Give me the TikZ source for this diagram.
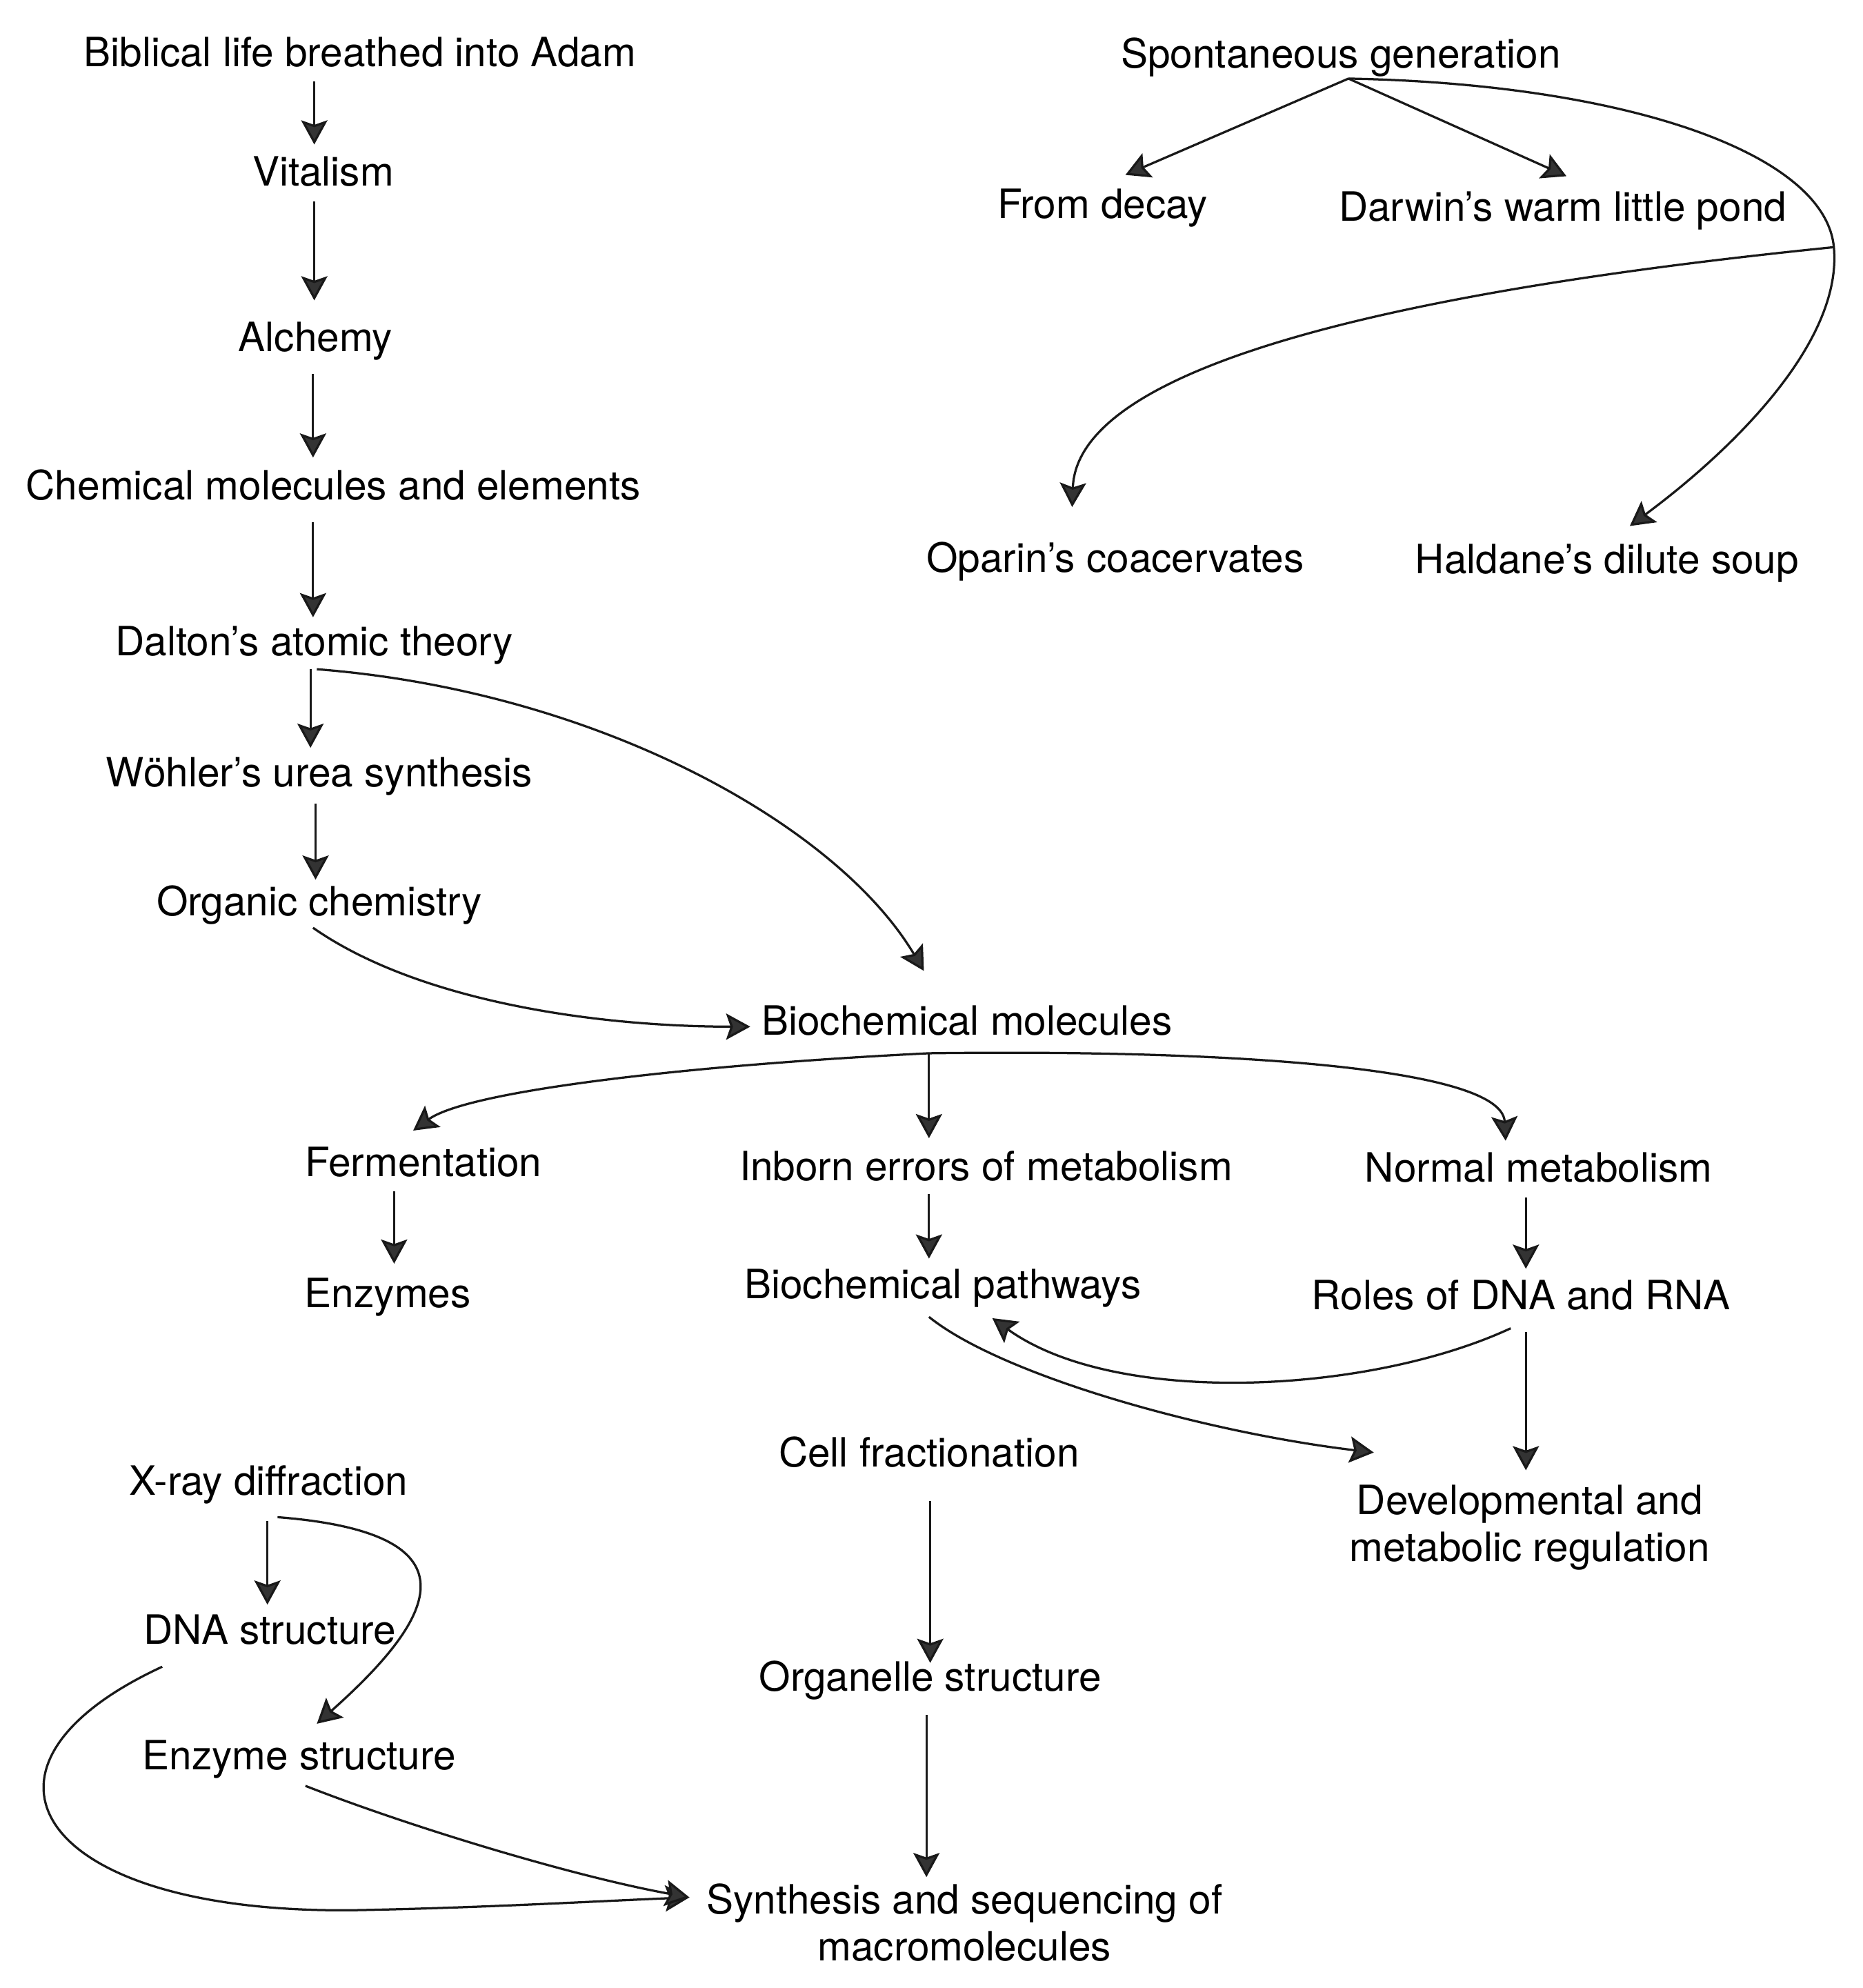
\documentclass[tikz,border=0pt]{standalone}
\usepackage{fontspec}
\setmainfont{TeX Gyre Heros}
\usetikzlibrary{arrows.meta,calc}
\begin{document}
\begin{tikzpicture}[x=0.3674pt,y=-0.3674pt,
  txt/.style={inner sep=0pt, font=\fontsize{11.7pt}{13.6pt}\selectfont, text height=8.4pt, text depth=0pt},
  txttwo/.style={inner sep=0pt, font=\fontsize{11.7pt}{13.6pt}\selectfont, align=center},
  arr/.style={line width=0.65pt, draw=black!90, -{Stealth[length=7pt,width=7.6pt,inset=1.3pt,fill=black!80]}}]
\useasboundingbox (0,0) rectangle (1470,1568.5);
% left column
\node[txt] (bib) at (284,41) {Biblical life breathed into Adam};
\node[txt] (vit) at (255,135) {Vitalism};
\node[txt] (alc) at (249,266) {Alchemy};
\node[txt] (chem) at (263,383) {Chemical molecules and elements};
\node[txt] (dal) at (248,506) {Dalton’s atomic theory};
\node[txt] (woh) at (252,609) {Wöhler’s urea synthesis};
\node[txt] (org) at (252,711) {Organic chemistry};
\node[txt] (bio) at (763,805) {Biochemical molecules};
\node[txt] (ferm) at (334,917) {Fermentation};
\node[txt] (inb) at (778,920) {Inborn errors of metabolism};
\node[txt] (norm) at (1214,921) {Normal metabolism};
\node[txt] (enz) at (306,1020) {Enzymes};
\node[txt] (path) at (744,1013) {Biochemical pathways};
\node[txt] (roles) at (1200,1022) {Roles of DNA and RNA};
\node[txttwo] (dev) at (1207,1205) {Developmental and\\metabolic regulation};
\node[txt] (cell) at (733,1146) {Cell fractionation};
\node[txt] (orgs) at (734,1323) {Organelle structure};
\node[txttwo] (syn) at (761,1517) {Synthesis and sequencing of\\macromolecules};
\node[txt] (xray) at (212,1168) {X-ray diffraction};
\node[txt] (dna) at (213,1286) {DNA structure};
\node[txt] (enzs) at (236,1385) {Enzyme structure};
% top right
\node[txt] (spont) at (1058,42) {Spontaneous generation};
\node[txt] (decay) at (870,161) {From decay};
\node[txt] (darwin) at (1233,163) {Darwin’s warm little pond};
\node[txt] (oparin) at (880,440) {Oparin’s coacervates};
\node[txt] (haldane) at (1268,441) {Haldane’s dilute soup};
\coordinate (J) at (1447,195);

% connectors
\draw[arr] ($(bib)+(-36,23)$) -- ($(vit)+(-7,-21)$);
\draw[arr] ($(vit)+(-7,24)$) -- ($(alc)+(-1,-29)$);
\draw[arr] ($(alc)+(-2,29)$) -- ($(chem)+(-16,-22)$);
\draw[arr] ($(chem)+(-16,29)$) -- ($(dal)+(-1,-19)$);
\draw[arr] ($(dal)+(-3,22)$) -- ($(woh)+(-7,-19)$);
\draw[arr] ($(dal)+(2,22)$) .. controls (470,545) and (660,650) .. ($(bio)+(-34,-39)$);
\draw[arr] ($(woh)+(-3,25)$) -- ($(org)+(-3,-17)$);
\draw[arr] ($(org)+(-5,21)$) .. controls (330,790) and (470,810) .. ($(bio)+(-171,5)$);
\draw[arr] ($(bio)+(-30,26)$) -- ($(inb)+(-45,-22)$);
\draw[arr] ($(bio)+(-30,26)$) .. controls (550,840) and (370,860) .. ($(ferm)+(-8,-25)$);
\draw[arr] ($(bio)+(-30,26)$) .. controls (950,828) and (1185,840) .. ($(norm)+(-26,-21)$);
\draw[arr] ($(ferm)+(-23,23)$) -- ($(enz)+(5,-23)$);
\draw[arr] ($(inb)+(-45,22)$) -- ($(path)+(-11,-20)$);
\draw[arr] ($(norm)+(-10,24)$) -- ($(roles)+(4,-21)$);
\draw[arr] ($(roles)+(-8,26)$) .. controls (1080,1100) and (880,1110) .. ($(path)+(39,27)$);
\draw[arr] ($(path)+(-11,26)$) .. controls (790,1085) and (950,1130) .. ($(dev)+(-123,-59)$);
\draw[arr] ($(roles)+(4,29)$) -- ($(dev)+(-3,-45)$);
\draw[arr] ($(cell)+(1,38)$) -- ($(orgs)+(0,-11)$);
\draw[arr] ($(orgs)+(-3,30)$) -- ($(syn)+(-30,-36)$);
\draw[arr] ($(xray)+(-1,32)$) -- ($(dna)+(-2,-20)$);
\draw[arr] ($(xray)+(7,29)$) .. controls (385,1210) and (340,1280) .. ($(enzs)+(14,-25)$);
\draw[arr] ($(dna)+(-85,29)$) .. controls (-45,1395) and (30,1512) .. (285,1507)
   .. controls (385,1505) and (470,1500) .. ($(syn)+(-217,-20)$);
\draw[arr] ($(enzs)+(5,24)$) .. controls (320,1440) and (450,1480) .. ($(syn)+(-217,-20)$);
% spontaneous generation
\draw[arr] ($(spont)+(6,20)$) -- ($(decay)+(18,-23)$);
\draw[arr] ($(spont)+(6,20)$) -- ($(darwin)+(3,-24)$);
\draw[arr] ($(spont)+(6,20)$) .. controls (1280,66) and (1440,120) .. (J)
   .. controls (1454,270) and (1367,355) .. ($(haldane)+(18,-26)$);
\draw[arr] (J) .. controls (1150,225) and (850,280) .. ($(oparin)+(-34,-40)$);
\end{tikzpicture}
\end{document}
